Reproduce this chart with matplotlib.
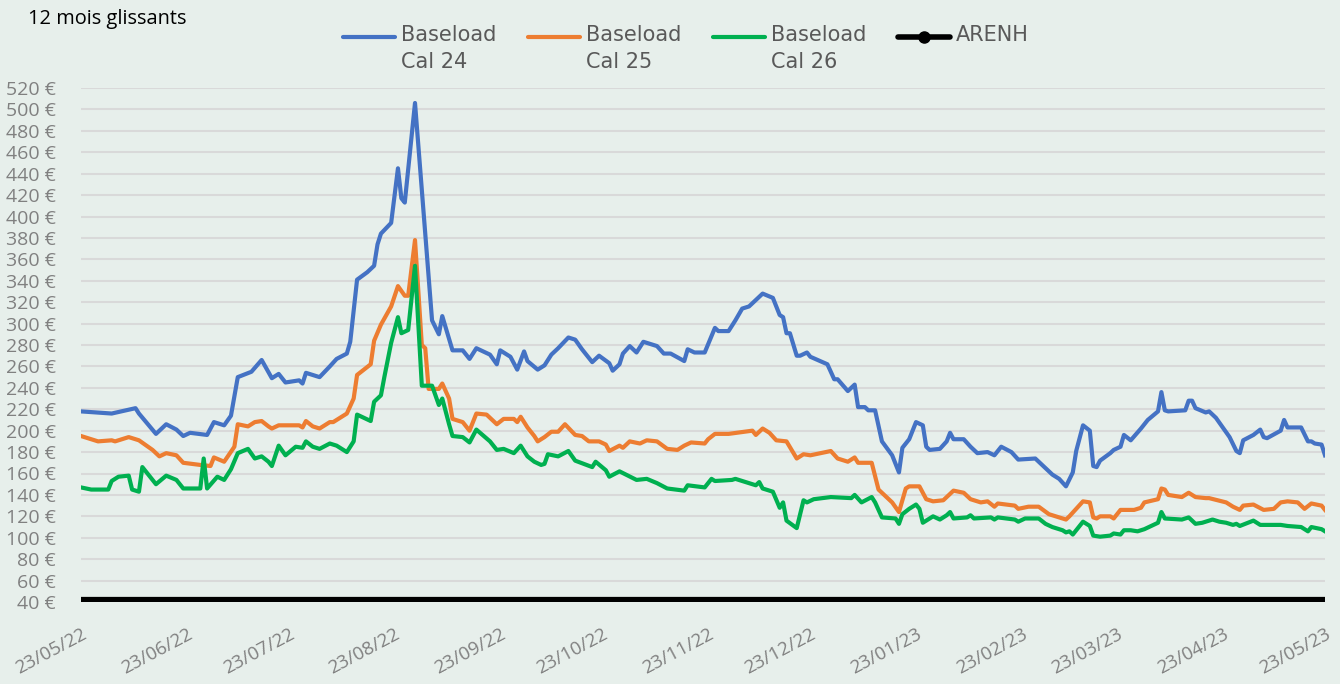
import pandas as pd
import matplotlib
matplotlib.use('Agg')
import matplotlib.pyplot as plt
from matplotlib.lines import Line2D
from matplotlib.ticker import FuncFormatter

W, H = 1340, 684
BG = '#e7efeb'
GREY = '#808080'

start = pd.Timestamp('2022-05-23')
end = pd.Timestamp('2023-05-23')

# days since 23/05/22
cal24_days = [0, 9, 16, 17, 22, 25, 28, 30, 32, 37, 39, 42, 44, 46, 50, 53, 56, 58, 60, 64, 65, 66, 70, 73,
              75, 78, 79, 81, 84, 86, 87, 88, 91, 93, 94, 95, 98, 103, 105, 106, 109, 112, 114, 116, 120, 122,
              123, 126, 128, 130, 131, 134, 136, 138, 140, 143, 145, 147, 150, 152, 155, 156, 158, 159, 161,
              163, 165, 169, 171, 173, 177, 178, 180, 183, 186, 187, 190, 192, 194, 196, 200, 203, 205, 206,
              207, 208, 210, 211, 213, 214, 219, 221, 222, 225, 227, 228, 230, 231, 233, 235, 238, 240, 241,
              243, 245, 247, 248, 249, 252, 254, 255, 256, 259, 261, 263, 266, 268, 270, 273, 275, 280, 283,
              285, 287, 289, 291, 292, 294, 296, 297, 298, 299, 302, 303, 305, 306, 308, 311, 313, 316, 317,
              318, 319, 324, 325, 326, 327, 330, 331, 333, 337, 339, 340, 341, 344, 346, 347, 348, 352, 353,
              354, 358, 360, 361, 362, 364, 365]
cal24 = [218, 216, 221, 216, 197, 206, 201, 195, 198, 196, 208, 205, 214, 250, 255, 266, 249, 253, 245, 247,
         244, 254, 250, 260, 267, 272, 283, 341, 348, 354, 374, 384, 394, 445, 417, 413, 506, 303, 290, 307,
         275, 275, 267, 277, 271, 262, 275, 269, 257, 274, 265, 257, 261, 271, 277, 287, 285, 276, 264, 270,
         263, 256, 262, 272, 279, 273, 283, 279, 272, 272, 265, 276, 273, 273, 296, 293, 293, 303, 314, 316,
         328, 324, 308, 306, 291, 291, 270, 270, 273, 269, 262, 248, 248, 237, 243, 222, 222, 219, 219, 190,
         177, 161, 184, 192, 208, 205, 185, 182, 183, 190, 198, 192, 192, 185, 179, 180, 177, 185, 180, 173,
         174, 165, 159, 155, 148, 161, 181, 205, 200, 167, 166, 172, 179, 182, 185, 196, 191, 202, 210, 218,
         236, 219, 218, 219, 228, 228, 221, 217, 218, 212, 194, 181, 179, 191, 196, 201, 194, 193, 200, 210,
         203, 203, 190, 190, 188, 187, 177]

cal25_days = [0, 5, 9, 10, 14, 17, 21, 23, 25, 28, 30, 35, 38, 39, 42, 45, 46, 49, 51, 53, 55, 56, 58, 64,
              65, 66, 68, 70, 73, 74, 78, 80, 81, 85, 86, 88, 91, 93, 95, 96, 98, 100, 101, 102, 105, 106,
              108, 109, 112, 114, 116, 119, 122, 124, 127, 128, 129, 131, 133, 134, 136, 138, 140, 142, 145,
              147, 149, 152, 154, 155, 158, 159, 161, 164, 166, 169, 172, 175, 177, 179, 183, 184, 186, 190,
              197, 198, 200, 202, 204, 207, 210, 212, 214, 220, 222, 225, 227, 228, 232, 234, 238, 240, 242,
              243, 246, 248, 250, 253, 256, 259, 261, 264, 266, 268, 269, 274, 275, 278, 281, 284, 287, 289,
              290, 294, 296, 297, 298, 299, 302, 303, 305, 309, 311, 312, 316, 317, 318, 319, 323, 325, 327,
              330, 331, 336, 338, 340, 341, 344, 347, 350, 352, 354, 357, 359, 361, 364, 365]
cal25 = [195, 190, 191, 190, 194, 191, 182, 176, 179, 177, 170, 168, 167, 175, 171, 185, 206, 204, 208, 209,
         204, 202, 205, 205, 203, 209, 204, 202, 208, 208, 216, 230, 252, 262, 284, 299, 316, 335, 326, 326,
         378, 280, 277, 239, 239, 244, 230, 211, 208, 200, 216, 215, 206, 211, 211, 208, 213, 203, 195, 190,
         194, 199, 199, 206, 196, 195, 190, 190, 187, 181, 186, 184, 190, 188, 191, 190, 183, 182, 186, 189,
         188, 192, 197, 197, 200, 196, 202, 198, 191, 190, 174, 178, 177, 181, 174, 171, 175, 170, 170, 145,
         133, 124, 146, 148, 148, 136, 134, 135, 144, 142, 136, 133, 134, 129, 132, 130, 127, 129, 129, 122,
         119, 117, 120, 134, 133, 119, 118, 120, 120, 118, 126, 126, 128, 133, 136, 146, 145, 140, 138, 142,
         138, 137, 137, 133, 129, 126, 130, 131, 126, 127, 133, 134, 133, 127, 132, 130, 126]

cal26_days = [0, 3, 8, 9, 11, 14, 15, 17, 18, 22, 25, 28, 30, 35, 36, 37, 40, 42, 44, 46, 49, 51, 53, 55,
              56, 58, 60, 63, 65, 66, 68, 70, 73, 75, 78, 80, 81, 85, 86, 88, 89, 91, 93, 94, 96, 98, 100,
              103, 104, 105, 106, 108, 109, 112, 114, 116, 120, 122, 124, 127, 129, 131, 133, 135, 136, 137,
              140, 143, 145, 150, 151, 154, 155, 158, 163, 166, 169, 172, 177, 178, 183, 185, 186, 191, 192,
              194, 198, 199, 200, 203, 205, 206, 207, 210, 212, 213, 215, 220, 226, 227, 229, 232, 233, 235,
              239, 240, 241, 243, 245, 246, 247, 250, 252, 254, 255, 256, 260, 261, 262, 267, 268, 269, 274,
              275, 277, 281, 283, 285, 288, 289, 290, 291, 294, 296, 297, 299, 302, 303, 305, 306, 308, 310,
              312, 316, 317, 318, 323, 325, 327, 329, 332, 334, 336, 338, 339, 340, 344, 346, 352, 354, 358,
              360, 361, 364, 365]
cal26 = [147, 145, 145, 153, 157, 158, 145, 143, 166, 150, 158, 154, 146, 146, 174, 146, 157, 154, 164, 179,
         183, 174, 176, 171, 167, 186, 177, 185, 184, 190, 185, 183, 188, 186, 180, 190, 215, 209, 227, 233,
         250, 282, 306, 291, 294, 354, 242, 242, 233, 224, 230, 206, 195, 194, 189, 201, 190, 182, 183, 179,
         186, 176, 171, 168, 169, 178, 176, 181, 172, 166, 171, 163, 157, 162, 154, 155, 151, 146, 144, 149,
         147, 155, 153, 154, 155, 153, 149, 152, 146, 143, 128, 133, 116, 109, 135, 133, 136, 138, 137, 140,
         133, 138, 133, 119, 118, 113, 122, 127, 131, 127, 114, 120, 117, 121, 124, 118, 119, 121, 118, 119,
         117, 119, 117, 115, 118, 118, 113, 110, 107, 105, 106, 103, 115, 111, 102, 101, 102, 104, 103, 107,
         107, 106, 108, 114, 124, 118, 117, 119, 113, 114, 117, 115, 114, 112, 113, 111, 116, 112, 112, 111,
         110, 106, 110, 108, 106]

arenh_days = [0, 365]
arenh = [42, 42]

y_ticks = list(range(40, 521, 20))
month_ticks = pd.date_range(start, end, freq=pd.DateOffset(months=1))

series = [
    ('Baseload\nCal 24', cal24_days, cal24, '#4472c4'),
    ('Baseload\nCal 25', cal25_days, cal25, '#ed7d31'),
    ('Baseload\nCal 26', cal26_days, cal26, '#00b050'),
]


def to_dates(days):
    return start + pd.to_timedelta(days, unit='D')


def draw_legend(fig):
    x0 = 343
    y = 1 - 37 / H
    for label, _, _, color in series:
        fig.add_artist(Line2D([x0 / W, (x0 + 52) / W], [y, y], transform=fig.transFigure,
                              color=color, lw=3, solid_capstyle='round'))
        fig.text((x0 + 58) / W, 1 - 25 / H, label, va='top', ha='left', color='#595959',
                 fontsize=15, family='DejaVu Sans', linespacing=1.45)
        x0 += 185
    fig.add_artist(Line2D([x0 / W, (x0 + 52) / W], [y, y], transform=fig.transFigure,
                          color='black', lw=4, solid_capstyle='round'))
    fig.add_artist(Line2D([(x0 + 26) / W], [y], transform=fig.transFigure,
                          color='black', marker='o', markersize=8))
    fig.text((x0 + 58) / W, 1 - 25 / H, 'ARENH', va='top', ha='left', color='#595959',
             fontsize=15, family='DejaVu Sans')


fig = plt.figure(figsize=(W / 100, H / 100), dpi=100, facecolor=BG)
ax = fig.add_axes([81 / W, (H - 602) / H, (1325 - 81) / W, (602 - 88) / H])
ax.set_facecolor(BG)

for label, days, vals, color in series:
    ax.plot(to_dates(days), vals, color=color, lw=3, solid_joinstyle='round')
ax.plot(to_dates(arenh_days), arenh, color='black', lw=4.5)

ax.set_xlim(start, end)
ax.set_ylim(40, 520)
ax.set_yticks(y_ticks)
ax.yaxis.set_major_formatter(FuncFormatter(lambda v, p: '{} €'.format(int(v))))
ax.set_xticks(month_ticks)
ax.set_xticklabels([d.strftime('%d/%m/%y') for d in month_ticks], rotation=28, ha='right',
                   rotation_mode='anchor')
ax.tick_params(axis='both', length=0, labelcolor=GREY)
ax.tick_params(axis='y', pad=18, labelsize=14)
ax.tick_params(axis='x', pad=17, labelsize=13.5)
for lab in ax.get_xticklabels() + ax.get_yticklabels():
    lab.set_family('Open Sans')

ax.grid(axis='y', color='#d9d9d9', lw=1.5)
ax.set_axisbelow(True)
for s in ax.spines.values():
    s.set_visible(False)

fig.text(28 / W, 1 - 9 / H, '12 mois glissants', va='top', ha='left', color='black',
         fontsize=14.4, family='Open Sans')
draw_legend(fig)

fig.savefig('out.png', dpi=100, facecolor=BG)
